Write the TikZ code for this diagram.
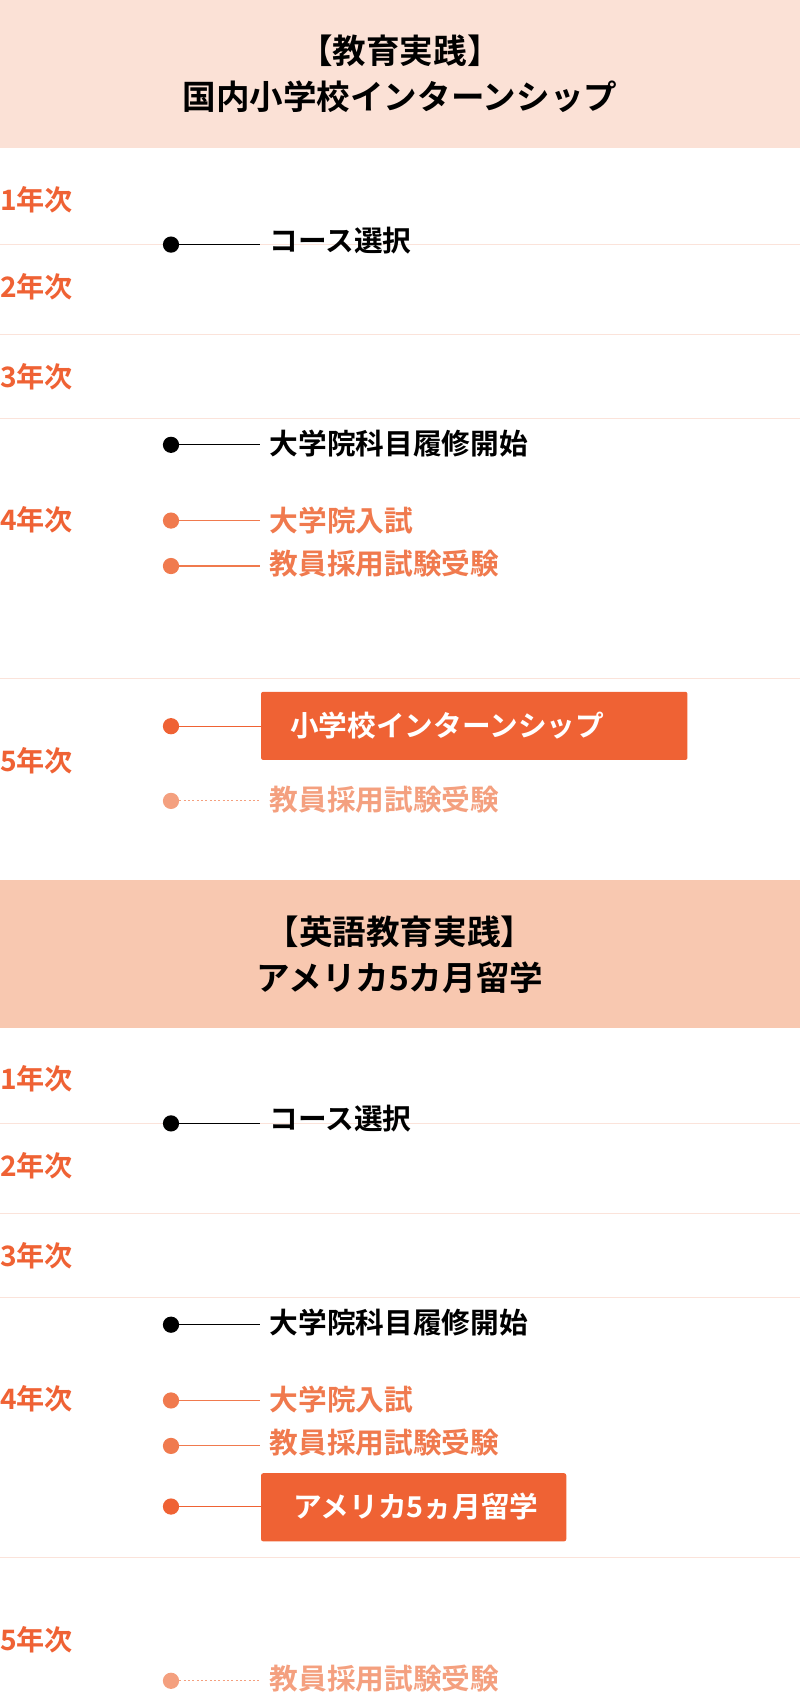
\documentclass[tikz,border=0pt]{standalone}
\usepackage{fontspec}
\newfontfamily\jp{Noto Sans CJK JP}[BoldFont={* Bold}]
\definecolor{hdA}{HTML}{FBE1D6}
\definecolor{hdB}{HTML}{F8C8B0}
\definecolor{rule}{HTML}{FBE3DA}
\definecolor{org}{HTML}{EF6234}
\definecolor{ltorg}{HTML}{F07A4E}
\definecolor{fade}{HTML}{F4A07F}
\tikzset{x=1pt,y=-1pt,
 yr/.style={anchor=west,text=org,font=\jp\bfseries\fontsize{26}{26}\selectfont,inner sep=0},
 lab/.style={anchor=west,font=\jp\bfseries\fontsize{26.5}{26.5}\selectfont,inner sep=0},
 hd/.style={align=center,font=\jp\bfseries\fontsize{31}{42}\selectfont},
 dot/.style={circle,fill,inner sep=0,minimum size=15pt},
 obox/.style={fill=org,rounded corners=2pt,anchor=north west,text=white,inner sep=0}}
\begin{document}
\begin{tikzpicture}
\useasboundingbox (0,0) rectangle (739,1568);
\fill[hdA] (0,0) rectangle (739,137);
\node[hd] (h1) at (369.5,68) {【教育実践】\\国内小学校インターンシップ};
\fill[hdB] (0,813) rectangle (739,950);
\node[hd] (h2) at (369.5,882) {【英語教育実践】\\アメリカ5カ月留学};
\foreach \y in {226,309,387,627,1038,1121,1199,1439} \draw[rule,line width=1.2pt] (0,\y) -- (739,\y);
% section 1
\node[yr] (a1) at (0,185) {1年次};
\node[yr] (a2) at (0,265) {2年次};
\node[yr] (a3) at (0,348) {3年次};
\node[yr] (a4) at (0,480) {4年次};
\node[yr] (a5) at (0,703) {5年次};
\node[dot,black] (d1) at (158,226) {};
\node[lab] (l1) at (249,222) {コース選択};
\draw[black,line width=1pt] (d1) -- (240,226);
\node[dot,black] (d2) at (158,411) {};
\node[lab] (l2) at (249,410) {大学院科目履修開始};
\draw[black,line width=1pt] (d2) -- (240,411);
\node[dot,ltorg] (d3) at (158,481) {};
\node[lab,text=ltorg] (l3) at (249,481) {大学院入試};
\draw[ltorg,line width=1pt] (d3) -- (240,481);
\node[dot,ltorg] (d4) at (158,523) {};
\node[lab,text=ltorg] (l4) at (249,521) {教員採用試験受験};
\draw[ltorg,line width=1pt] (d4) -- (240,523);
\node[dot,org] (d5) at (158,671) {};
\node[obox,minimum width=394pt,minimum height=63pt] (b1) at (241,639) {};
\node[lab,text=white] (t1) at (268,670) {小学校インターンシップ};
\draw[org,line width=1pt] (d5) -- (241,671);
\node[dot,fade] (d6) at (158,740) {};
\node[lab,text=fade] (l6) at (249,739) {教員採用試験受験};
\draw[fade,line width=1pt,dash pattern=on 2pt off 2pt] (d6) -- (240,740);
% section 2
\node[yr] (c1) at (0,997) {1年次};
\node[yr] (c2) at (0,1077) {2年次};
\node[yr] (c3) at (0,1160) {3年次};
\node[yr] (c4) at (0,1292) {4年次};
\node[yr] (c5) at (0,1515) {5年次};
\node[dot,black] (e1) at (158,1038) {};
\node[lab] (m1) at (249,1034) {コース選択};
\draw[black,line width=1pt] (e1) -- (240,1038);
\node[dot,black] (e2) at (158,1224) {};
\node[lab] (m2) at (249,1222) {大学院科目履修開始};
\draw[black,line width=1pt] (e2) -- (240,1224);
\node[dot,ltorg] (e3) at (158,1294) {};
\node[lab,text=ltorg] (m3) at (249,1293) {大学院入試};
\draw[ltorg,line width=1pt] (e3) -- (240,1294);
\node[dot,ltorg] (e4) at (158,1336) {};
\node[lab,text=ltorg] (m4) at (249,1333) {教員採用試験受験};
\draw[ltorg,line width=1pt] (e4) -- (240,1336);
\node[dot,org] (e5) at (158,1392) {};
\node[obox,minimum width=282pt,minimum height=63pt] (b2) at (241,1361) {};
\node[lab,text=white] (t2) at (271,1392) {アメリカ5ヵ月留学};
\draw[org,line width=1pt] (e5) -- (241,1392);
\node[dot,fade] (e6) at (158,1553) {};
\node[lab,text=fade] (m6) at (249,1551) {教員採用試験受験};
\draw[fade,line width=1pt,dash pattern=on 2pt off 2pt] (e6) -- (240,1553);
\end{tikzpicture}
\end{document}
